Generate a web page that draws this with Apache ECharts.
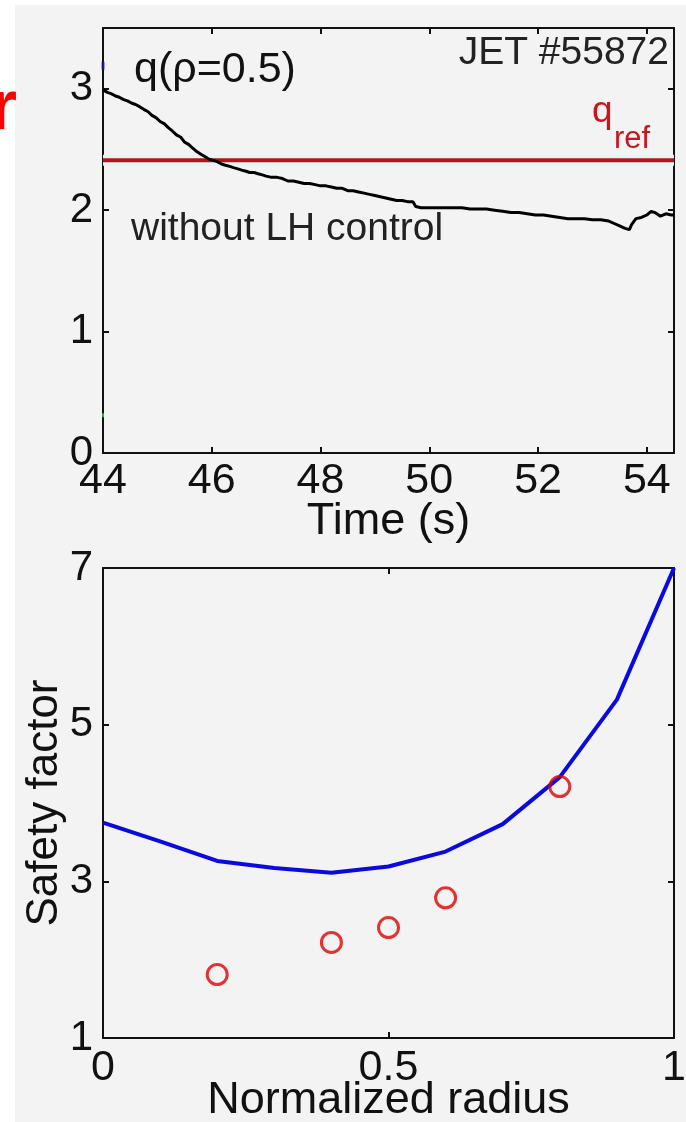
<!DOCTYPE html>
<html><head><meta charset="utf-8">
<script src="https://cdn.jsdelivr.net/npm/echarts@6/dist/echarts.min.js"></script>
<style>
html,body{margin:0;padding:0;background:#fff;}
#bg{position:absolute;left:15px;top:5px;width:671px;height:1117px;background:#f3f3f3;}
#chart{position:absolute;left:0;top:0;width:686px;height:1122px;}
</style></head><body>
<div id="bg"></div><div id="chart"></div>
<script>
// ---- Top panel: q(rho=0.5) vs time, JET #55872 ----
const timeS = [44.00,44.08,44.15,44.23,44.30,44.38,44.45,44.53,44.60,44.68,44.75,44.83,44.90,44.98,45.05,45.13,45.20,45.28,45.35,45.43,45.50,45.58,45.65,45.73,45.80,45.88,45.95,46.03,46.10,46.18,46.25,46.33,46.40,46.48,46.55,46.63,46.70,46.78,46.85,46.93,47.00,47.10,47.20,47.30,47.40,47.50,47.60,47.70,47.80,47.90,48.00,48.10,48.20,48.30,48.40,48.50,48.60,48.70,48.80,48.90,49.00,49.10,49.20,49.30,49.40,49.50,49.60,49.70,49.75,49.85,50.00,50.15,50.30,50.45,50.60,50.75,50.90,51.05,51.20,51.35,51.50,51.65,51.80,51.95,52.10,52.25,52.40,52.55,52.70,52.85,53.00,53.15,53.30,53.40,53.50,53.60,53.68,53.72,53.80,53.90,54.00,54.08,54.15,54.25,54.35,54.45,54.50];
const qRho05 = [2.99,2.97,2.96,2.94,2.93,2.91,2.90,2.88,2.87,2.85,2.83,2.81,2.78,2.76,2.73,2.71,2.68,2.65,2.62,2.60,2.56,2.54,2.51,2.48,2.46,2.44,2.42,2.41,2.40,2.38,2.37,2.36,2.35,2.34,2.33,2.32,2.31,2.31,2.30,2.29,2.28,2.27,2.27,2.26,2.24,2.24,2.23,2.22,2.22,2.21,2.20,2.20,2.19,2.18,2.18,2.16,2.16,2.15,2.14,2.13,2.12,2.11,2.10,2.09,2.08,2.08,2.07,2.07,2.03,2.02,2.02,2.02,2.02,2.02,2.02,2.01,2.01,2.01,2.00,1.99,1.98,1.98,1.97,1.96,1.96,1.95,1.94,1.93,1.93,1.93,1.92,1.92,1.91,1.89,1.87,1.85,1.84,1.88,1.93,1.94,1.96,1.99,1.98,1.95,1.97,1.96,1.96];
const qRef = 2.41;
const timeRange = [44, 54.5];
const qRange = [0, 3.5];
const blueMark = [[44, 3.19]];
const greenMark = [[44, 0.31]];

// ---- Bottom panel: safety factor profile ----
const radius = [0, 0.1, 0.2, 0.3, 0.4, 0.5, 0.6, 0.7, 0.8, 0.9, 1.0];
const qProfile = [3.75, 3.51, 3.26, 3.17, 3.11, 3.19, 3.38, 3.73, 4.33, 5.32, 7.00];
const targetRadius = [0.2, 0.4, 0.5, 0.6, 0.8];
const targetQ = [1.81, 2.22, 2.41, 2.79, 4.21];
const radiusRange = [0, 1];
const sfRange = [1, 7];

const FONT = '"Liberation Sans", Arial, Helvetica, sans-serif';
const AX = {color: '#111', width: 2};

function xAx(grid, range, interval, pos, labels, name, nameGap, margin) {
  return {
    type: 'value', gridIndex: grid, position: pos, min: range[0], max: range[1], interval: interval,
    axisLine: {show: true, onZero: false, lineStyle: AX},
    axisTick: {show: true, inside: true, length: 6, lineStyle: AX},
    axisLabel: {show: labels, showMaxLabel: range[1] % interval === 0, showMinLabel: true,
      fontFamily: FONT, fontSize: 43, color: '#111', margin: margin || 6},
    splitLine: {show: false},
    name: name || '', nameLocation: 'middle', nameGap: nameGap || 0, nameMoveOverlap: false,
    nameTextStyle: {fontFamily: FONT, fontSize: 45, color: '#111'}
  };
}
function yAx(grid, range, interval, pos, labels, name, nameGap) {
  return {
    type: 'value', gridIndex: grid, position: pos, min: range[0], max: range[1], interval: interval,
    axisLine: {show: true, onZero: false, lineStyle: AX},
    axisTick: {show: true, inside: true, length: 6, lineStyle: AX},
    axisLabel: {show: labels, showMaxLabel: (range[1] - range[0]) % interval === 0,
      fontFamily: FONT, fontSize: 42, color: '#111', margin: 10},
    splitLine: {show: false},
    name: name || '', nameLocation: 'middle', nameGap: nameGap || 0, nameMoveOverlap: false,
    nameTextStyle: {fontFamily: FONT, fontSize: 44, color: '#111'}
  };
}

const chart = echarts.init(document.getElementById('chart'), null, {renderer: 'canvas'});
chart.setOption({
  backgroundColor: 'transparent',
  animation: false,
  grid: [
    {left: 103, right: 12, top: 28, height: 425, outerBoundsMode: 'none', containLabel: false},
    {left: 103, right: 12, top: 568, height: 470, outerBoundsMode: 'none', containLabel: false}
  ],
  xAxis: [
    xAx(0, timeRange, 2, 'bottom', true, 'Time (s)', 46, 7),
    xAx(0, timeRange, 2, 'top', false),
    xAx(1, radiusRange, 0.5, 'bottom', true, 'Normalized radius', 40, 9),
    xAx(1, radiusRange, 0.5, 'top', false)
  ],
  yAxis: [
    yAx(0, qRange, 1, 'left', true),
    yAx(0, qRange, 1, 'right', false),
    yAx(1, sfRange, 2, 'left', true, 'Safety factor', 36),
    yAx(1, sfRange, 2, 'right', false)
  ],
  series: [
    {type: 'line', xAxisIndex: 0, yAxisIndex: 0, silent: true, symbol: 'none', z: 1,
      data: timeRange.map(t => [t, qRef]), lineStyle: {color: '#e3f6f6', width: 11}},
    {type: 'line', xAxisIndex: 0, yAxisIndex: 0, silent: true, symbol: 'none', z: 2,
      data: timeRange.map(t => [t, qRef]), lineStyle: {color: '#b3151b', width: 4}},
    {type: 'line', xAxisIndex: 0, yAxisIndex: 0, silent: true, symbol: 'none', z: 3,
      data: timeS.map((t, i) => [t, qRho05[i]]), lineStyle: {color: '#000', width: 3}},
    {type: 'scatter', xAxisIndex: 0, yAxisIndex: 0, silent: true, symbol: 'rect', symbolSize: [3, 8],
      data: blueMark, itemStyle: {color: '#1a1ab0'}},
    {type: 'scatter', xAxisIndex: 0, yAxisIndex: 0, silent: true, symbol: 'rect', symbolSize: [2, 4],
      data: greenMark, itemStyle: {color: '#4c4'}},
    {type: 'line', xAxisIndex: 2, yAxisIndex: 2, silent: true, symbol: 'none', z: 3,
      data: radius.map((r, i) => [r, qProfile[i]]), lineStyle: {color: '#0a0ae0', width: 4}},
    {type: 'scatter', xAxisIndex: 2, yAxisIndex: 2, silent: true, symbol: 'circle', symbolSize: 20, z: 4,
      data: targetRadius.map((r, i) => [r, targetQ[i]]),
      itemStyle: {color: 'rgba(0,0,0,0)', borderColor: '#e00000', borderWidth: 3}}
  ],
  graphic: [
    {type: 'text', silent: true, style: {x: 17, y: 110, text: 'r', textAlign: 'right', textVerticalAlign: 'middle',
      font: 'bold 70px ' + FONT, fill: '#ff0000'}},
    {type: 'text', silent: true, style: {x: 134, y: 70, text: 'q(ρ=0.5)', textAlign: 'left', textVerticalAlign: 'middle',
      font: '43px ' + FONT, fill: '#111'}},
    {type: 'text', silent: true, style: {x: 669, y: 53, text: 'JET #55872', textAlign: 'right', textVerticalAlign: 'middle',
      font: '39px ' + FONT, fill: '#222'}},
    {type: 'text', silent: true, style: {x: 131, y: 229, text: 'without LH control', textAlign: 'left', textVerticalAlign: 'middle',
      font: '39px ' + FONT, fill: '#222'}},
    {type: 'text', silent: true, style: {x: 592, y: 112, text: 'q', textAlign: 'left', textVerticalAlign: 'middle',
      font: '37px ' + FONT, fill: '#c8161d'}},
    {type: 'text', silent: true, style: {x: 614, y: 139, text: 'ref', textAlign: 'left', textVerticalAlign: 'middle',
      font: '31px ' + FONT, fill: '#c8161d'}}
  ]
});
</script>
</body></html>
